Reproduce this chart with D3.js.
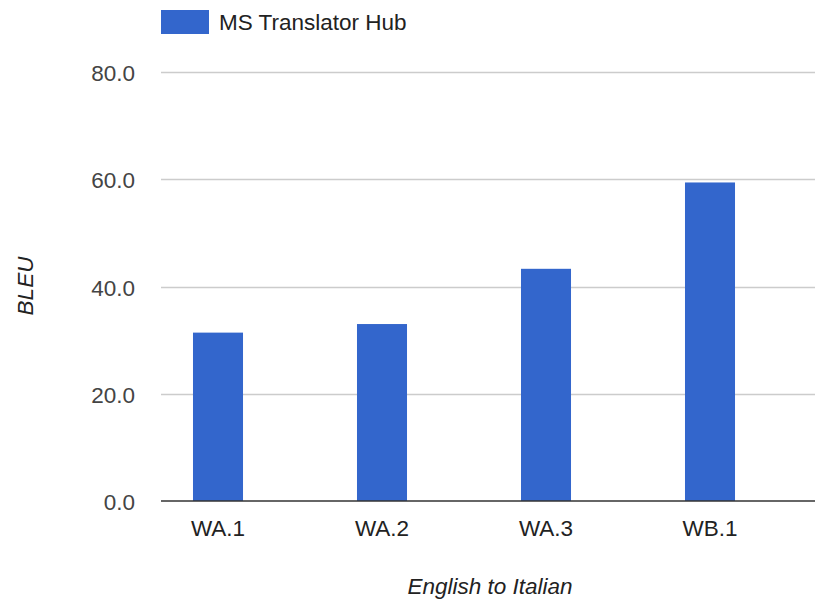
<!DOCTYPE html>
<html>
<head>
<meta charset="utf-8">
<script src="https://cdn.jsdelivr.net/npm/d3@7"></script>
<style>
  body { margin: 0; background: #fff; }
  text { font-family: "Liberation Sans", Arial, sans-serif; }
</style>
</head>
<body>
<svg id="chart" width="815" height="600"></svg>
<script>
    // chart data
    var categories = ["WA.1", "WA.2", "WA.3", "WB.1"];
    var bleuValues = [31.4, 33.0, 43.3, 59.4];
    var yTicks = [0, 20, 40, 60, 80];
    var seriesName = "MS Translator Hub";

    var svg = d3.select("#chart");
    var plotLeft = 161, plotRight = 815, plotTop = 72, plotBottom = 501;
    var fontSize = "22.5px";

    var x = d3.scaleBand()
        .domain(categories)
        .range([136, 792])
        .paddingInner(0.695)
        .paddingOuter(0.3475);

    var y = d3.scaleLinear()
        .domain([0, 80])
        .range([plotBottom, plotTop]);

    // gridlines
    svg.append("g")
        .selectAll("line")
        .data(yTicks.slice(1))
        .enter().append("line")
        .attr("x1", plotLeft).attr("x2", plotRight)
        .attr("y1", function(d) { return Math.round(y(d)) + 0.5; })
        .attr("y2", function(d) { return Math.round(y(d)) + 0.5; })
        .attr("stroke", "#cccccc")
        .attr("stroke-width", 1.5);

    // y tick labels
    svg.append("g")
        .selectAll("text")
        .data(yTicks)
        .enter().append("text")
        .attr("x", 135)
        .attr("y", function(d) { return y(d) + 9; })
        .attr("text-anchor", "end")
        .attr("fill", "#444")
        .style("font-size", fontSize)
        .text(function(d) { return d3.format(".1f")(d); });

    // bars
    svg.append("g")
        .selectAll("rect")
        .data(bleuValues)
        .enter().append("rect")
        .attr("x", function(d, i) { return x(categories[i]); })
        .attr("width", x.bandwidth())
        .attr("y", function(d) { return y(d); })
        .attr("height", function(d) { return y(0) - y(d); })
        .attr("fill", "#3366cc");

    // baseline
    svg.append("line")
        .attr("x1", plotLeft).attr("x2", plotRight)
        .attr("y1", y(0)).attr("y2", y(0))
        .attr("stroke", "#333")
        .attr("stroke-width", 1.5);

    // x tick labels
    svg.append("g")
        .selectAll("text")
        .data(categories)
        .enter().append("text")
        .attr("x", function(d) { return x(d) + x.bandwidth() / 2; })
        .attr("y", 536)
        .attr("text-anchor", "middle")
        .attr("fill", "#222")
        .style("font-size", fontSize)
        .text(function(d) { return d; });

    // axis titles
    svg.append("text")
        .attr("x", 490).attr("y", 594)
        .attr("text-anchor", "middle")
        .attr("fill", "#222")
        .style("font-size", fontSize)
        .style("font-style", "italic")
        .text("English to Italian");

    svg.append("text")
        .attr("transform", "translate(33,286) rotate(-90)")
        .attr("text-anchor", "middle")
        .attr("fill", "#222")
        .style("font-size", fontSize)
        .style("font-style", "italic")
        .text("BLEU");

    // legend
    svg.append("rect")
        .attr("x", 161).attr("y", 10)
        .attr("width", 48).attr("height", 24)
        .attr("fill", "#3366cc");
    svg.append("text")
        .attr("x", 219).attr("y", 30)
        .attr("fill", "#222")
        .style("font-size", fontSize)
        .text(seriesName);
</script>
</body>
</html>
